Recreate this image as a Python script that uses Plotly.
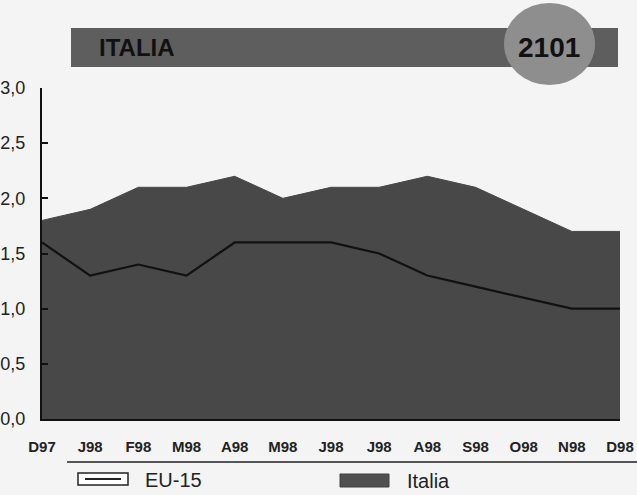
import plotly.graph_objects as go

# dati
mesi = ['D97', 'J98', 'F98', 'M98', 'A98', 'M98', 'J98', 'J98', 'A98', 'S98', 'O98', 'N98', 'D98']
italia = [1.8, 1.9, 2.1, 2.1, 2.2, 2.0, 2.1, 2.1, 2.2, 2.1, 1.9, 1.7, 1.7]
eu15 = [1.6, 1.3, 1.4, 1.3, 1.6, 1.6, 1.6, 1.5, 1.3, 1.2, 1.1, 1.0, 1.0]
y_ticks = [0.0, 0.5, 1.0, 1.5, 2.0, 2.5, 3.0]
y_labels = ['0,0', '0,5', '1,0', '1,5', '2,0', '2,5', '3,0']

W, H = 637, 495
L, R, T, B = 42, 620, 88, 419   # area del grafico in pixel

def px(x):
    return (x - L) / (R - L)

def py(y):
    return (B - y) / (B - T)

xs = list(range(len(mesi)))

fig = go.Figure()

fig.add_trace(go.Scatter(
    x=xs, y=italia, name='Italia', mode='lines',
    fill='tozeroy', fillcolor='#484848',
    line=dict(color='#484848', width=1),
    showlegend=False
))

fig.add_trace(go.Scatter(
    x=xs, y=eu15, name='EU-15', mode='lines',
    line=dict(color='#111111', width=2.2),
    showlegend=False
))

shapes = [
    # barra del titolo
    dict(type='rect', xref='paper', yref='paper',
         x0=px(71), x1=px(618), y0=py(67), y1=py(28),
         fillcolor='#5e5e5e', line=dict(width=0), layer='above'),
    dict(type='circle', xref='paper', yref='paper',
         x0=px(504), x1=px(595), y0=py(85), y1=py(3),
         fillcolor='#8e8e8e', line=dict(width=0), layer='above'),
    # linea sotto le etichette
    dict(type='line', xref='paper', yref='paper',
         x0=px(67), x1=px(637), y0=py(462), y1=py(462),
         line=dict(color='#222222', width=1.5)),
    # legenda EU-15
    dict(type='rect', xref='paper', yref='paper',
         x0=px(78), x1=px(128), y0=py(485), y1=py(473),
         fillcolor='white', line=dict(color='#222222', width=1.5)),
    dict(type='line', xref='paper', yref='paper',
         x0=px(85), x1=px(121), y0=py(479), y1=py(479),
         line=dict(color='#222222', width=2)),
    # legenda Italia
    dict(type='rect', xref='paper', yref='paper',
         x0=px(340), x1=px(389), y0=py(487), y1=py(474),
         fillcolor='#505050', line=dict(color='#404040', width=1)),
]

annotations = [
    dict(text='<b>ITALIA</b>', xref='paper', yref='paper', x=px(97), y=py(48),
         xanchor='left', yanchor='middle', showarrow=False,
         font=dict(family='Liberation Sans', size=24, color='#111111')),
    dict(text='<b>2101</b>', xref='paper', yref='paper', x=px(549), y=py(48),
         xanchor='center', yanchor='middle', showarrow=False,
         font=dict(family='Liberation Sans', size=28, color='#111111')),
    dict(text='EU-15', xref='paper', yref='paper', x=px(143), y=py(480),
         xanchor='left', yanchor='middle', showarrow=False,
         font=dict(family='Liberation Sans', size=20, color='#222222')),
    dict(text='Italia', xref='paper', yref='paper', x=px(405), y=py(481),
         xanchor='left', yanchor='middle', showarrow=False,
         font=dict(family='Liberation Sans', size=20, color='#222222')),
]

fig.update_layout(
    width=W, height=H,
    margin=dict(l=L, r=W - R, t=T, b=H - B, autoexpand=False),
    paper_bgcolor='#f4f4f4',
    plot_bgcolor='#f4f4f4',
    shapes=shapes,
    annotations=annotations,
    xaxis=dict(
        range=[0, len(mesi) - 1],
        tickmode='array', tickvals=xs, ticktext=mesi,
        showgrid=False, zeroline=False,
        showline=True, linecolor='#111111', linewidth=2,
        ticks='', ticklabelstandoff=13,
        tickfont=dict(family='Liberation Sans', size=15, color='#222222', weight='bold'),
        automargin=False,
    ),
    yaxis=dict(
        range=[0, 3],
        tickmode='array', tickvals=y_ticks, ticktext=y_labels,
        showgrid=False, zeroline=False,
        showline=True, linecolor='#111111', linewidth=2,
        ticks='inside', ticklen=6, tickwidth=2, tickcolor='#111111',
        ticklabelstandoff=11,
        tickfont=dict(family='Liberation Sans', size=18, color='#222222'),
        automargin=False,
    ),
)

# niente margine della pagina, cosi' il grafico parte dall'angolo in alto
fig.write_html('out.html', config={'displayModeBar': False},
               post_script="document.body.style.margin='0';")
